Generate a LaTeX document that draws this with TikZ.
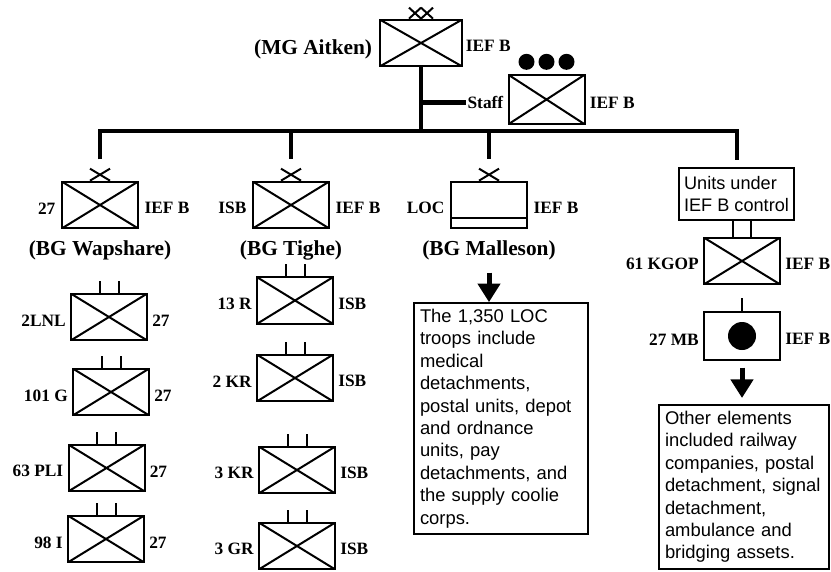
\documentclass[tikz,border=0pt]{standalone}
\usepackage{fontspec}
\setmainfont{Liberation Serif}
\setsansfont{Liberation Sans}
\usetikzlibrary{positioning,calc,arrows.meta}
\tikzset{
  unit/.style={draw,line width=1.5pt,minimum width=57pt,minimum height=35pt,inner sep=0pt},
  infantry/.style={unit,path picture={
      \draw[line width=1.5pt] (path picture bounding box.north west)--(path picture bounding box.south east)
        (path picture bounding box.south west)--(path picture bounding box.north east);}},
  supply/.style={unit,path picture={
      \draw[line width=1.5pt] ([yshift=8pt]path picture bounding box.south west)--([yshift=8pt]path picture bounding box.south east);}},
  side label/.style={font=\fontsize{13}{15}\selectfont\bfseries,inner sep=1pt,yshift=-2.5pt},
  name label/.style={font=\fontsize{16}{18}\selectfont\bfseries,inner sep=1pt},
  link/.style={line width=3pt},
  echelon/.style={line width=1.5pt},
  note/.style={draw,line width=1.5pt,font=\sffamily\fontsize{13.8}{16.8}\selectfont,align=left,inner xsep=4.5pt},
  big arrow/.style={line width=3.75pt,-{Triangle[width=16.5pt,length=14pt]}}
}

\begin{document}
\begin{tikzpicture}[x=0.75pt,y=-0.75pt]
  \useasboundingbox (0,0) rectangle (831,571);
  \node[infantry,minimum width=61.5pt] (hq) at (421,43) {};
  \node[name label,left=4pt of hq,yshift=-4.5pt] (hqn) {(MG Aitken)};
  \node[side label,right=1pt of hq] (hqr) {IEF B};
  \foreach \dx in {-12,0}
    \draw[echelon] ($(hq.north)+(\dx,-11)$) -- ++(12,11) ($(hq.north)+(\dx,0)$) -- ++(12,-11);

  \node[infantry,minimum height=37pt] (staff) at (546.5,99.5) {};
  \node[side label,right=2pt of staff] (staffr) {IEF B};
  \foreach \dx in {-20,0,20}
    \fill ($(staff.north)+(\dx,-12)$) circle[radius=6pt];

  \coordinate (bar) at (421,131);
  \node[side label,yshift=2.5pt,anchor=west] (stafftxt) at (466,102) {Staff};
  \draw[link] (hq.south) -- (bar);
  \draw[link,line width=3.75pt] (hq.south |- stafftxt) -- (stafftxt.west);

  \node[infantry] (b1) at (100,205) {};
  \node[infantry] (b2) at (291,205) {};
  \node[supply] (b3) at (489,205) {};
  \node[note,font=\sffamily\fontsize{13.6}{15.8}\selectfont,inner xsep=3.5pt,minimum height=39pt] (units) at (736.5,194) {Units under\\IEF B control};
  \draw[link] ([yshift=16pt]b1.north) |- (bar) -| ([yshift=5pt]units.north);
  \foreach \b/\l/\nm in {b1/27/BG Wapshare, b2/ISB/BG Tighe, b3/LOC/BG Malleson} {
    \node[side label,left=3pt of \b] (\b l) {\l};
    \node[side label,right=3pt of \b] (\b r) {IEF B};
    \node[name label,below=7pt of \b] (\b n) {(\nm)};
    \draw[echelon] ($(\b.north)+(-10,-12)$) -- ++(20,12) ($(\b.north)+(-10,0)$) -- ++(20,-12);
  }
  \draw[link] (b2.north |- bar) -- ([yshift=16pt]b2.north);
  \draw[link] (b3.north |- bar) -- ([yshift=16pt]b3.north);

  \foreach \n/\x/\y/\nm in {1/109/317/2LNL, 2/111/392/101 G, 3/106.5/468/63 PLI, 4/106/539/98 I} {
    \node[infantry] (w\n) at (\x,\y) {};
    \node[side label,left=2pt of w\n] (w\n l) {\nm};
    \node[side label,right=2pt of w\n] (w\n r) {27};
    \draw[echelon] ($(w\n.north)+(-9.5,0)$) -- ++(0,-12) ($(w\n.north)+(9.5,0)$) -- ++(0,-12);
  }
  \foreach \n/\x/\y/\nm in {1/295/300.5/13 R, 2/295/378/2 KR, 3/297/470/3 KR, 4/297/546/3 GR} {
    \node[infantry] (t\n) at (\x,\y) {};
    \node[side label,left=2pt of t\n] (t\n l) {\nm};
    \node[side label,right=2pt of t\n] (t\n r) {ISB};
    \draw[echelon] ($(t\n.north)+(-9.5,0)$) -- ++(0,-12) ($(t\n.north)+(9.5,0)$) -- ++(0,-12);
  }

  \node[note,text width=121.5pt,minimum height=173pt] (locnote) at (501,418.5)
    {The 1,350 LOC\\troops include\\medical\\detachments,\\postal units, depot\\and ordnance\\units, pay\\detachments, and\\the supply coolie\\corps.};
  \draw[big arrow,shorten <=8.5pt] (b3n.south) -- (b3n.south |- locnote.north);

  \node[infantry] (kgop) at (742,261) {};
  \node[side label,left=2pt of kgop] (kgopl) {61 KGOP};
  \node[side label,right=2pt of kgop] (kgopr) {IEF B};
  \draw[echelon] ([xshift=-6.75pt]kgop.north) -- ++(0,-17) ([xshift=6.75pt]kgop.north) -- ++(0,-17);

  \node[unit,minimum height=36pt] (mb) at (742,336) {};
  \fill (mb) circle[radius=10.5pt];
  \node[side label,left=2pt of mb] (mbl) {27 MB};
  \node[side label,right=2pt of mb] (mbr) {IEF B};
  \draw[echelon] (mb.north) -- ++(0,-13);

  \node[note,text width=118.5pt,minimum height=123pt] (other) at (744,487)
    {Other elements\\included railway\\companies, postal\\detachment, signal\\detachment,\\ambulance and\\bridging assets.};
  \draw[big arrow,shorten <=5pt,shorten >=4.5pt] (mb.south) -- (mb.south |- other.north);
\end{tikzpicture}
\end{document}
